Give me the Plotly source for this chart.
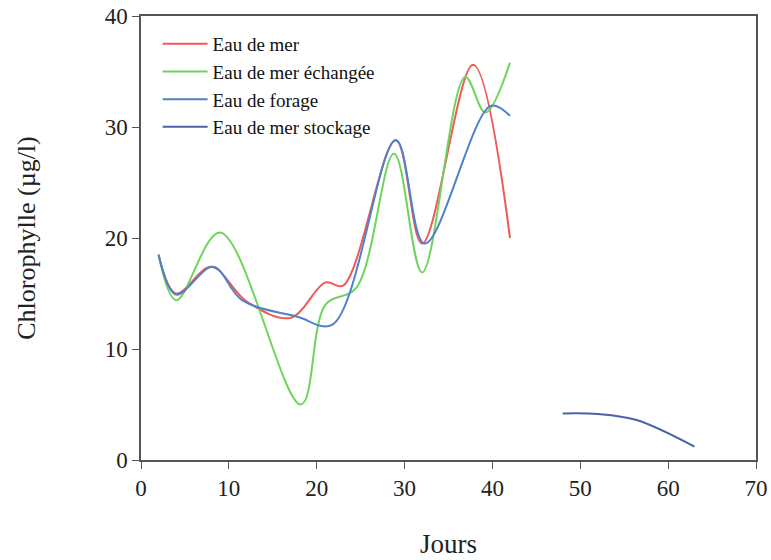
import plotly.graph_objects as go

# Sampling days and chlorophyll concentrations (µg/l) for each water type
jours_mer = [2, 4, 8, 12, 17, 21, 23, 29, 32, 37.8, 42]
chl_mer = [18.5, 15.0, 17.4, 14.3, 12.8, 16.0, 15.7, 28.8, 19.5, 35.6, 20.0]

jours_echangee = [2, 4, 9, 18.2, 21, 24.5, 28.8, 32, 36.9, 39.2, 42]
chl_echangee = [18.5, 14.4, 20.5, 5.0, 14.0, 15.5, 27.6, 16.9, 34.5, 31.3, 35.8]

jours_forage = [2, 4, 8.2, 11.5, 17.8, 21.8, 29, 32.3, 39.8, 42]
chl_forage = [18.5, 14.9, 17.4, 14.4, 12.9, 12.2, 28.8, 19.5, 31.9, 31.0]

jours_stockage = [48, 52, 56.4, 63]
chl_stockage = [4.2, 4.15, 3.6, 1.2]

series = [
    ("Eau de mer", jours_mer, chl_mer, "#ef5a55"),
    ("Eau de mer échangée", jours_echangee, chl_echangee, "#6fd45c"),
    ("Eau de forage", jours_forage, chl_forage, "#4f82cc"),
    ("Eau de mer stockage", jours_stockage, chl_stockage, "#4a62a8"),
]

fig = go.Figure()
for name, x, y, color in series:
    fig.add_trace(go.Scatter(
        x=x, y=y, name=name, mode="lines",
        line=dict(color=color, width=2, shape="spline", smoothing=1.0),
    ))

serif = "Liberation Serif"
axis_common = dict(
    showgrid=False, zeroline=False,
    showline=True, linecolor="#555555", linewidth=1.5, mirror=True,
    ticks="outside", ticklen=7, tickcolor="#555555", tickwidth=1,
    tickfont=dict(family=serif, size=23, color="#222222"),
)

fig.update_xaxes(
    range=[0, 70], tickvals=[0, 10, 20, 30, 40, 50, 60, 70],
    title=dict(text="Jours", font=dict(family=serif, size=27, color="#222222"), standoff=34),
    **axis_common,
)
fig.update_yaxes(
    range=[0, 40], tickvals=[0, 10, 20, 30, 40],
    title=dict(text="Chlorophylle (µg/l)", font=dict(family=serif, size=26, color="#222222"), standoff=62),
    **axis_common,
)

fig.update_layout(
    width=771, height=560,
    margin=dict(l=141, r=15, t=16, b=100, autoexpand=False),
    paper_bgcolor="white", plot_bgcolor="white",
    legend=dict(
        x=0.027, y=0.98, xanchor="left", yanchor="top",
        bgcolor="rgba(0,0,0,0)",
        font=dict(family=serif, size=19, color="#111111"),
        tracegroupgap=0, itemwidth=45,
    ),
    showlegend=True,
)

fig.write_html("out.html")
